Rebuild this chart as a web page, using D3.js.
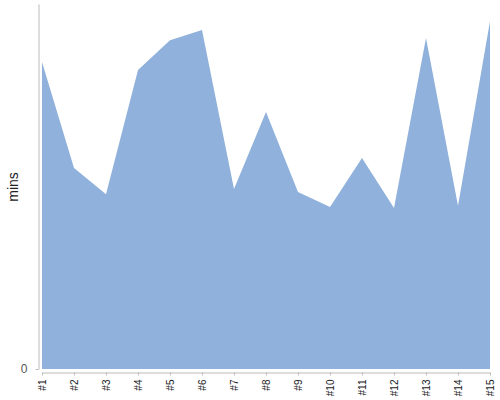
<!DOCTYPE html>
<html>
<head>
<meta charset="utf-8">
<script src="https://d3js.org/d3.v7.min.js"></script>
<style>
  body { margin: 0; background: #fff; }
  text { font-family: "Liberation Sans", Arial, sans-serif; }
</style>
</head>
<body>
<div id="chart"></div>
<script>
var runs = ["#1","#2","#3","#4","#5","#6","#7","#8","#9","#10","#11","#12","#13","#14","#15"];
var mins = [84.1, 55.1, 47.9, 81.9, 90.1, 92.9, 49.3, 70.4, 48.5, 44.4, 57.8, 44.1, 90.7, 44.7, 95.3];
var yTicks = [0];

var width = 500, height = 400;

var svg = d3.select("#chart").append("svg")
  .attr("width", width)
  .attr("height", height);

var x = d3.scalePoint().domain(runs).range([42, 490]);
var y = d3.scaleLinear().domain([0, 100]).range([369, 4]);

var area = d3.area()
  .x(function(d, i) { return x(runs[i]); })
  .y0(y(0))
  .y1(function(d) { return y(d); });

svg.append("path")
  .datum(mins)
  .attr("d", area)
  .attr("fill", "#8fb1db");

// y axis
var yAxis = svg.append("g")
  .attr("transform", "translate(38.5,0)")
  .call(d3.axisLeft(y).tickValues(yTicks).tickSize(3).tickPadding(8).tickSizeOuter(0));
yAxis.select(".domain").attr("stroke", "#bbb");
yAxis.selectAll(".tick line").attr("stroke", "#bbb");
yAxis.selectAll(".tick text").attr("fill", "#555").style("font-size", "12px");

// x axis
var xAxis = svg.append("g")
  .attr("transform", "translate(0,372.5)")
  .call(d3.axisBottom(x).tickSize(3).tickSizeOuter(0));
xAxis.select(".domain").attr("stroke", "#bbb");
xAxis.selectAll(".tick line").attr("stroke", "#bbb");
xAxis.selectAll(".tick text")
  .attr("fill", "#222")
  .style("font-size", "10px")
  .attr("text-anchor", "end")
  .attr("transform", "rotate(-90)")
  .attr("x", -7)
  .attr("y", 0)
  .attr("dy", "0.35em");

svg.append("text")
  .attr("transform", "translate(18,187) rotate(-90)")
  .attr("text-anchor", "middle")
  .attr("fill", "#222")
  .style("font-size", "14px")
  .text("mins");
</script>
</body>
</html>
